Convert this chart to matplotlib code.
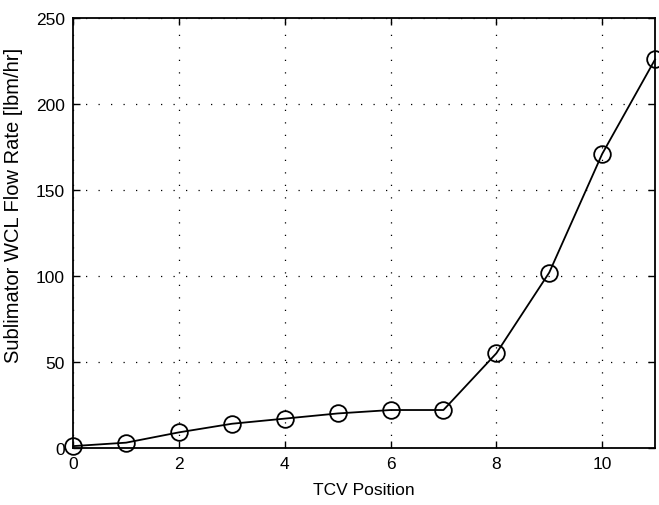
import matplotlib
matplotlib.use("Agg")
import matplotlib.pyplot as plt

# TCV position vs. sublimator flow
tcv_pos = [0, 1, 2, 3, 4, 5, 6, 7, 8, 9, 10, 11]
flow_rate = [1, 3, 9, 14, 17, 20, 22, 22, 55, 102, 171, 226]
x_ticks = [0, 2, 4, 6, 8, 10]
y_ticks = [0, 50, 100, 150, 200, 250]

plt.rcParams['font.family'] = ['Liberation Sans', 'DejaVu Sans']

fig = plt.figure(figsize=(6.59, 5.06), dpi=100)
ax = fig.add_axes([0.111, 0.113, 0.883, 0.849])

ax.plot(tcv_pos, flow_rate, color='black', linewidth=1.3,
        marker='o', markersize=12, markerfacecolor='none',
        markeredgecolor='black', markeredgewidth=1.3, clip_on=False, zorder=3)

ax.set_xlim(0, 11)
ax.set_ylim(0, 250)
ax.set_xticks(x_ticks)
ax.set_yticks(y_ticks)
ax.grid(True, color='black', linestyle=(0, (1, 9)), linewidth=0.9)

ax.tick_params(direction='in', length=5, width=1, top=True, right=True,
               labelsize=12.5, pad=6)
for s in ax.spines.values():
    s.set_linewidth(1.3)

ax.set_xlabel('TCV Position', fontsize=12.5, labelpad=8)
ax.set_ylabel('Sublimator WCL Flow Rate [lbm/hr]', fontsize=14.5)
ax.yaxis.set_label_coords(-0.086, 0.567)

fig.savefig('out.png', dpi=100)
